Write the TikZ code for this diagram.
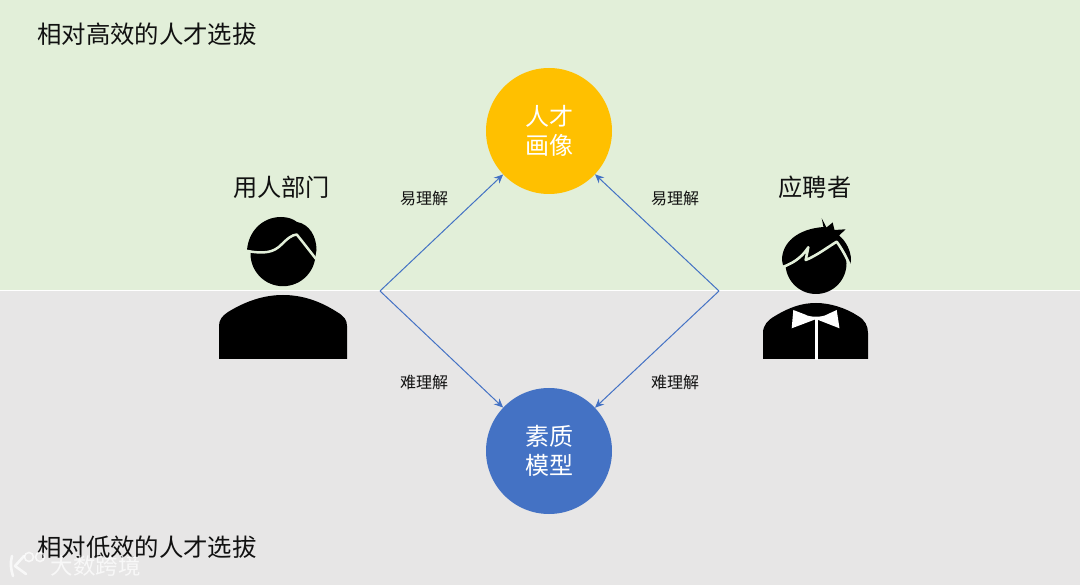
\documentclass[tikz,border=0pt]{standalone}
\usepackage{fontspec}
\setmainfont{Noto Sans CJK SC}
\usetikzlibrary{arrows.meta}
\definecolor{topbg}{HTML}{E2EFD9}
\definecolor{botbg}{HTML}{E7E6E6}
\definecolor{goldc}{HTML}{FFC000}
\definecolor{bluec}{HTML}{4472C4}
\definecolor{inkc}{HTML}{111111}
\tikzset{
  titletext/.style={font=\fontsize{24.4}{24}\selectfont,text=inkc,anchor=west,inner sep=0pt},
  roletext/.style={font=\fontsize{24.2}{24}\selectfont,text=inkc,inner sep=0pt},
  edgetext/.style={font=\fontsize{16}{16}\selectfont,text=inkc,inner sep=0pt},
  hub/.style={circle,minimum size=126pt,inner sep=0pt,text=white,align=center,font=\fontsize{24}{29}\selectfont},
  link/.style={draw=bluec,line width=1pt,-{Stealth[length=9pt,width=8pt]}},
  gap/.style={draw=topbg,line width=2.5pt,line join=round,line cap=butt},
  mark ink/.style={draw=white,line width=2.6pt,line cap=round,line join=round},
}
\begin{document}
\begin{tikzpicture}[x=1pt,y=-1pt]
\useasboundingbox (0,0) rectangle (1080,585);
\fill[topbg] (0,0) rectangle (1080,291);
\fill[botbg] (0,291) rectangle (1080,585);
\draw[white,line width=1pt] (0,291) -- (1080,291);

\node[titletext] (t1) at (37,34) {相对高效的人才选拔};
\node[titletext] (t2) at (37,547) {相对低效的人才选拔};

\node[hub,fill=goldc] (talent) at (549,131) {人才\\画像};
\node[hub,fill=bluec] (model) at (549,451) {素质\\模型};

\coordinate (lv) at (380,291);
\coordinate (rv) at (719,291);
\draw[link] (lv) -- (talent);
\draw[link] (rv) -- (talent);
\draw[link] (lv) -- (model);
\draw[link] (rv) -- (model);

\node[edgetext] (e1) at (424,198) {易理解};
\node[edgetext] (e2) at (675,198) {易理解};
\node[edgetext] (e3) at (424,382) {难理解};
\node[edgetext] (e4) at (675,382) {难理解};

\node[roletext] (dept) at (281.5,187) {用人部门};
\node[roletext] (cand) at (815,187) {应聘者};

% left person
\fill[black] (247,250.7) .. controls (248,232) and (262,217) .. (281,217) .. controls (288,217) and (293,219) .. (297,222) .. controls (309,224) and (316.5,236) .. (316.5,250) -- (315,258) .. controls (309,250) and (302,241) .. (296.7,234.5) .. controls (292,235) and (288,238) .. (281,245) .. controls (274,252) and (265,254) .. cycle;
\fill[black] (283,253.7) circle (32.5);
\draw[gap] (246,250.7) .. controls (265,254.5) and (274,252) .. (281,245) .. controls (288,238) and (292,235) .. (296.7,234.5) .. controls (302,241) and (309,250) .. (316,259);
\fill[black] (219,359) -- (219,326) .. controls (219,320) and (222,316) .. (228,312) .. controls (246,301) and (264,295) .. (283,295) .. controls (302,295) and (320,301) .. (337,312) .. controls (344,316) and (347,320) .. (347,326) -- (347,359) -- cycle;

% right person
\fill[black] (821.7,218.3) -- (826.5,227.5) -- (832.7,222.5) -- (834.5,230) -- (845.7,229.3) -- (839,235.5) .. controls (846,241) and (851,251) .. (851,260) -- (850,267) .. controls (847,258) and (842,249) .. (836.7,241.7) .. controls (828,247) and (816,256) .. (805.7,260) -- (808.3,247.3) .. controls (804,254) and (797,262) .. (783.3,266.7) -- (782,260) .. controls (782,243) and (797,229) .. (823.5,227) -- cycle;
\fill[black] (816,263.5) circle (30.5);
\draw[gap,line width=2.6pt] (782.5,267) .. controls (797,262) and (804,254) .. (808.3,247.3) -- (805.7,260) .. controls (816,256) and (828,247) .. (836.7,241.7) .. controls (842,249) and (847,258) .. (851,268);
\fill[black] (763,359) -- (763,333) .. controls (763,325) and (768,320) .. (775,316) .. controls (790,307) and (802,303) .. (816,303) .. controls (830,303) and (846,308) .. (858,316) .. controls (865,320) and (868,326) .. (868,333) -- (868,359) -- cycle;
\fill[white] (793.3,310) -- (805,314.5) .. controls (810,317.5) and (822,317.5) .. (827,314.5) -- (836.7,310) -- (839.5,328.3) -- (817,319.5) -- (815,319.5) -- (791.7,328.3) -- cycle;
\draw[white,line width=3pt] (816,319) -- (816,360);

% watermark
\begin{scope}[opacity=0.72]
\node[inner sep=0pt,text=white,font=\fontsize{22.5}{22}\selectfont] (wm) at (95.5,566) {大数跨境};
\draw[mark ink] (12,556) .. controls (10,563) and (11,570) .. (13,576);
\draw[mark ink] (24,556) -- (15,566) -- (26,574);
\draw[white,line width=1.6pt] (29,557) circle (4.5);
\draw[white,line width=1.6pt] (40,557) circle (4.5);
\end{scope}
\end{tikzpicture}
\end{document}
